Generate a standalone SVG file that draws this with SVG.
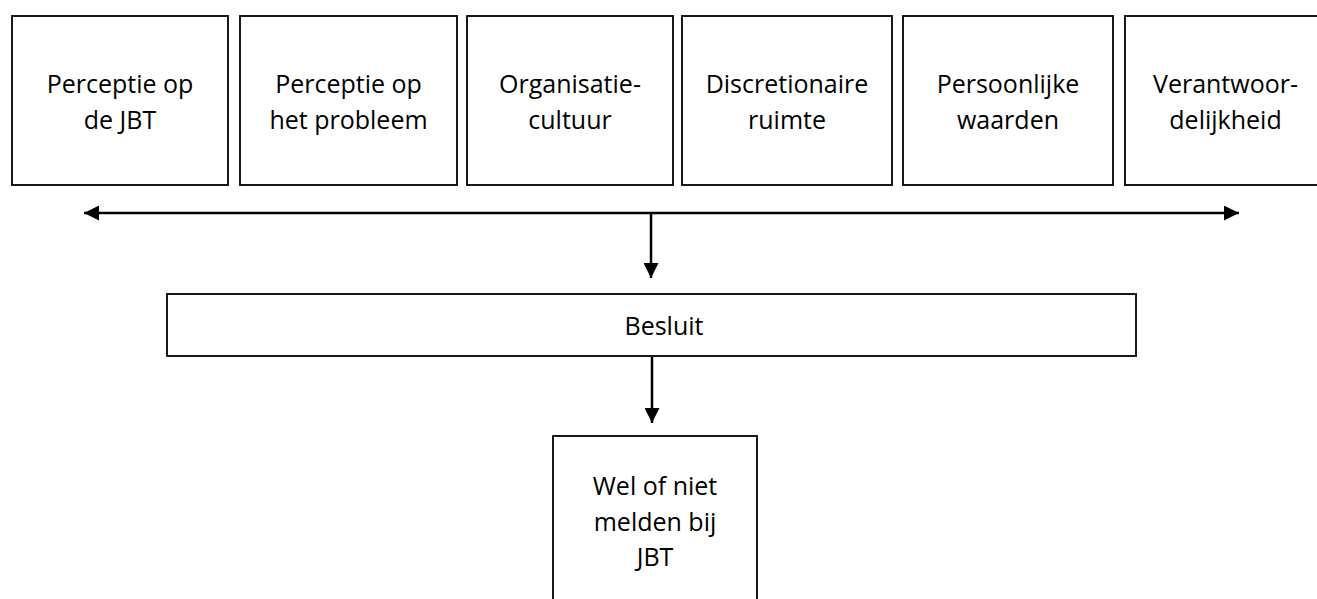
<svg xmlns="http://www.w3.org/2000/svg" width="1317" height="599" viewBox="0 0 1317 599">
<style>
.box{fill:#fff;stroke:#000;stroke-width:1.8}
.t{font-family:"Open Sans","Noto Sans",sans-serif;font-size:25px;fill:#000;text-anchor:middle}
.c{stroke:#000;stroke-width:2.5;fill:none}
</style>
<defs>
<marker id="ah" viewBox="0 0 10 10" refX="10" refY="5" markerWidth="15" markerHeight="15" markerUnits="userSpaceOnUse" orient="auto-start-reverse">
<path d="M0,0 L10,5 L0,10 z" fill="#000"/>
</marker>
</defs>
<rect width="1317" height="599" fill="#fff"/>
<g id="n1"><rect class="box" x="12" y="16" width="216" height="169"/><text class="t" x="120" y="93">Perceptie op</text><text class="t" x="120" y="129">de JBT</text></g>
<g id="n2"><rect class="box" x="240" y="16" width="217" height="169"/><text class="t" x="348.5" y="93">Perceptie op</text><text class="t" x="348.5" y="129">het probleem</text></g>
<g id="n3"><rect class="box" x="467" y="16" width="206" height="169"/><text class="t" x="570" y="93">Organisatie-</text><text class="t" x="570" y="129">cultuur</text></g>
<g id="n4"><rect class="box" x="682" y="16" width="210" height="169"/><text class="t" x="787" y="93">Discretionaire</text><text class="t" x="787" y="129">ruimte</text></g>
<g id="n5"><rect class="box" x="903" y="16" width="210" height="169"/><text class="t" x="1008" y="93">Persoonlijke</text><text class="t" x="1008" y="129">waarden</text></g>
<g id="n6"><rect class="box" x="1125" y="16" width="210" height="169"/><text class="t" x="1225.5" y="93">Verantwoor-</text><text class="t" x="1225.5" y="129">delijkheid</text></g>
<g id="besluit"><rect class="box" x="167" y="294" width="969" height="62"/><text class="t" x="664" y="335">Besluit</text></g>
<g id="uitkomst"><rect class="box" x="553" y="436" width="204" height="180"/><text class="t" x="655" y="495">Wel of niet</text><text class="t" x="655" y="531">melden bij</text><text class="t" x="655" y="566">JBT</text></g>
<g id="connectors">
<line class="c" x1="84" y1="213" x2="1239" y2="213" marker-start="url(#ah)" marker-end="url(#ah)"/>
<line class="c" x1="651" y1="213" x2="651" y2="278" marker-end="url(#ah)"/>
<line class="c" x1="652" y1="357" x2="652" y2="423" marker-end="url(#ah)"/>
</g>
</svg>
